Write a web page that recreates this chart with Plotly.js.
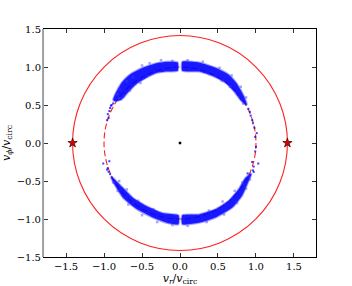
<!DOCTYPE html>
<html><head><meta charset="utf-8">
<script src="https://cdn.plot.ly/plotly-3.0.1.min.js"></script>
<style>html,body{margin:0;padding:0;background:#fff;}#plot{width:352px;height:286px;}</style>
</head><body><div id="plot"></div>
<script>
// Band edges (v_r, v_phi)
const ulOuterR = [-0.03,-0.18,-0.31,-0.49,-0.66,-0.77,-0.85,-0.88];
const ulOuterP = [ 1.06, 1.07, 1.05, 0.99, 0.90, 0.79, 0.65, 0.57];
const ulInnerR = [-0.03,-0.18,-0.31,-0.44,-0.57,-0.68,-0.77,-0.86];
const ulInnerP = [ 0.95, 0.94, 0.92, 0.86, 0.78, 0.67, 0.57, 0.55];

const urOuterR = [0.03,0.25,0.47,0.64,0.75,0.84,0.88];
const urOuterP = [1.07,1.06,0.99,0.90,0.78,0.62,0.51];
const urInnerR = [0.03,0.25,0.43,0.60,0.71,0.80,0.87];
const urInnerP = [0.95,0.94,0.88,0.79,0.68,0.56,0.50];

const llOuterR = [-0.02,-0.14,-0.36,-0.57,-0.75,-0.86,-0.91];
const llOuterP = [-1.07,-1.06,-0.98,-0.87,-0.72,-0.55,-0.45];
const llInnerR = [-0.02,-0.23,-0.44,-0.62,-0.75,-0.84,-0.90];
const llInnerP = [-0.95,-0.92,-0.83,-0.72,-0.59,-0.50,-0.44];

const lrOuterR = [0.03,0.25,0.47,0.69,0.82,0.90,0.94];
const lrOuterP = [-1.07,-1.05,-0.98,-0.85,-0.69,-0.51,-0.41];
const lrInnerR = [0.03,0.25,0.47,0.64,0.77,0.86,0.93];
const lrInnerP = [-0.95,-0.94,-0.87,-0.76,-0.61,-0.46,-0.40];

// light speckles along the band edges
const speckR = [-0.62,-0.70,-0.79,-0.83,-0.74,-0.66,-0.50,-0.40,-0.25,-0.10,-0.52,-0.80,
                0.10,0.30,0.52,0.68,0.80,0.87,0.78,0.66,0.55,0.83,
                -0.10,-0.30,-0.50,-0.68,-0.82,-0.88,-0.80,-0.70,-0.55,-0.35,
                0.10,0.35,0.58,0.75,0.87,0.92,0.82,0.72,0.56,0.38];
const speckP = [0.87,0.81,0.70,0.64,0.61,0.69,1.02,1.05,1.09,1.08,0.79,0.59,
                1.09,1.07,0.99,0.89,0.74,0.60,0.61,0.74,0.82,0.52,
                -1.08,-1.04,-0.95,-0.81,-0.63,-0.52,-0.50,-0.61,-0.76,-0.87,
                -1.09,-1.04,-0.94,-0.79,-0.60,-0.48,-0.52,-0.63,-0.77,-0.89];

// sparse tail points
const tailR = [-0.90,-0.92,-0.93,-0.95,-0.94,-0.96,-0.88,-0.91,
               0.90,0.92,0.93,0.95,0.96,0.98,1.01,0.99,0.99,1.00,
               0.95,0.97,0.96,0.97,0.89,1.03,
               -0.93,-1.01,-0.95,-0.94,-0.92,-0.96];
const tailP = [0.50,0.46,0.42,0.38,0.33,0.30,0.52,0.49,
               0.45,0.41,0.36,0.30,0.26,0.20,0.13,0.08,-0.11,-0.05,
               -0.25,-0.31,-0.36,-0.38,-0.40,-0.27,
               -0.24,-0.27,-0.33,-0.38,-0.41,-0.35];

const starR = [-1.414, 1.414];
const starP = [0, 0];
const centerR = [0];
const centerP = [0];
const circleRadii = [1.414, 1.0];

const xTicks = [-1.5,-1.0,-0.5,0.0,0.5,1.0,1.5];
const yTicks = [-1.5,-1.0,-0.5,0.0,0.5,1.0,1.5];

function band(oR,oP,iR,iP){
  return {x: oR.concat(iR.slice().reverse(), [oR[0]]),
          y: oP.concat(iP.slice().reverse(), [oP[0]]),
          type:'scatter', mode:'lines', fill:'toself',
          fillcolor:'rgba(0,0,255,0.9)',
          line:{color:'rgba(40,40,255,0.4)', width:2, shape:'spline', smoothing:0.5},
          hoverinfo:'skip', showlegend:false};
}

const traces = [
  band(ulOuterR,ulOuterP,ulInnerR,ulInnerP),
  band(urOuterR,urOuterP,urInnerR,urInnerP),
  band(llOuterR,llOuterP,llInnerR,llInnerP),
  band(lrOuterR,lrOuterP,lrInnerR,lrInnerP),
  {x:speckR, y:speckP, type:'scatter', mode:'markers',
   marker:{symbol:'square', size:2.5, color:'rgba(60,60,255,0.45)'}, showlegend:false},
  {x:tailR, y:tailP, type:'scatter', mode:'markers',
   marker:{symbol:'square', size:2, color:'rgba(0,0,255,0.75)'}, showlegend:false},
  {x:centerR, y:centerP, type:'scatter', mode:'markers',
   marker:{size:2.5, color:'black', symbol:'square'}, showlegend:false},
  {x:starR, y:starP, type:'scatter', mode:'markers',
   marker:{symbol:'star', size:7, color:'#e00000', line:{color:'#300', width:0.7}}, showlegend:false}
];

const shapes = [
  {type:'circle', xref:'x', yref:'y', layer:'below',
   x0:-circleRadii[0], x1:circleRadii[0], y0:-circleRadii[0], y1:circleRadii[0],
   line:{color:'#ff2020', width:1.1}},
  {type:'circle', xref:'x', yref:'y', layer:'below',
   x0:-circleRadii[1], x1:circleRadii[1], y0:-circleRadii[1], y1:circleRadii[1],
   line:{color:'#ff2020', width:1.1, dash:'6px,3px'}},
  {type:'line', xref:'paper', yref:'paper', x0:-0.0035, x1:-0.0035, y0:0, y1:1,
   line:{color:'#a0a0a0', width:2}}
];

const font = {family:'"DejaVu Serif", "Liberation Serif", serif', size:10, color:'#000'};

const layout = {
  width:352, height:286,
  margin:{l:44, r:36, t:29, b:29, pad:0},
  paper_bgcolor:'#fff', plot_bgcolor:'#fff',
  font: font,
  showlegend:false,
  xaxis:{range:[-1.79,1.79], tickvals:xTicks, tickformat:'.1f',
         ticks:'inside', ticklen:4, tickcolor:'#000', tickwidth:0.8,
         showline:true, linecolor:'#000', linewidth:1, mirror:'ticks',
         showgrid:false, zeroline:false, tickfont:font,
         title:{text:'<i>v</i><sub><i>r</i></sub>/<i>v</i><sub>circ</sub>', standoff:3,
                font:{family:'"DejaVu Serif", serif', size:11}}},
  yaxis:{range:[-1.5,1.5], tickvals:yTicks, tickformat:'.1f',
         ticks:'inside', ticklen:4, tickcolor:'#000', tickwidth:0.8,
         showline:true, linecolor:'#000', linewidth:1, mirror:'ticks',
         showgrid:false, zeroline:false, tickfont:font,
         title:{text:'<i>v</i><sub><i>ϕ</i></sub>/<i>v</i><sub>circ</sub>', standoff:4,
                font:{family:'"DejaVu Serif", serif', size:11}}},
  shapes: shapes
};

Plotly.newPlot('plot', traces, layout, {staticPlot:true, displayModeBar:false});
</script></body></html>
